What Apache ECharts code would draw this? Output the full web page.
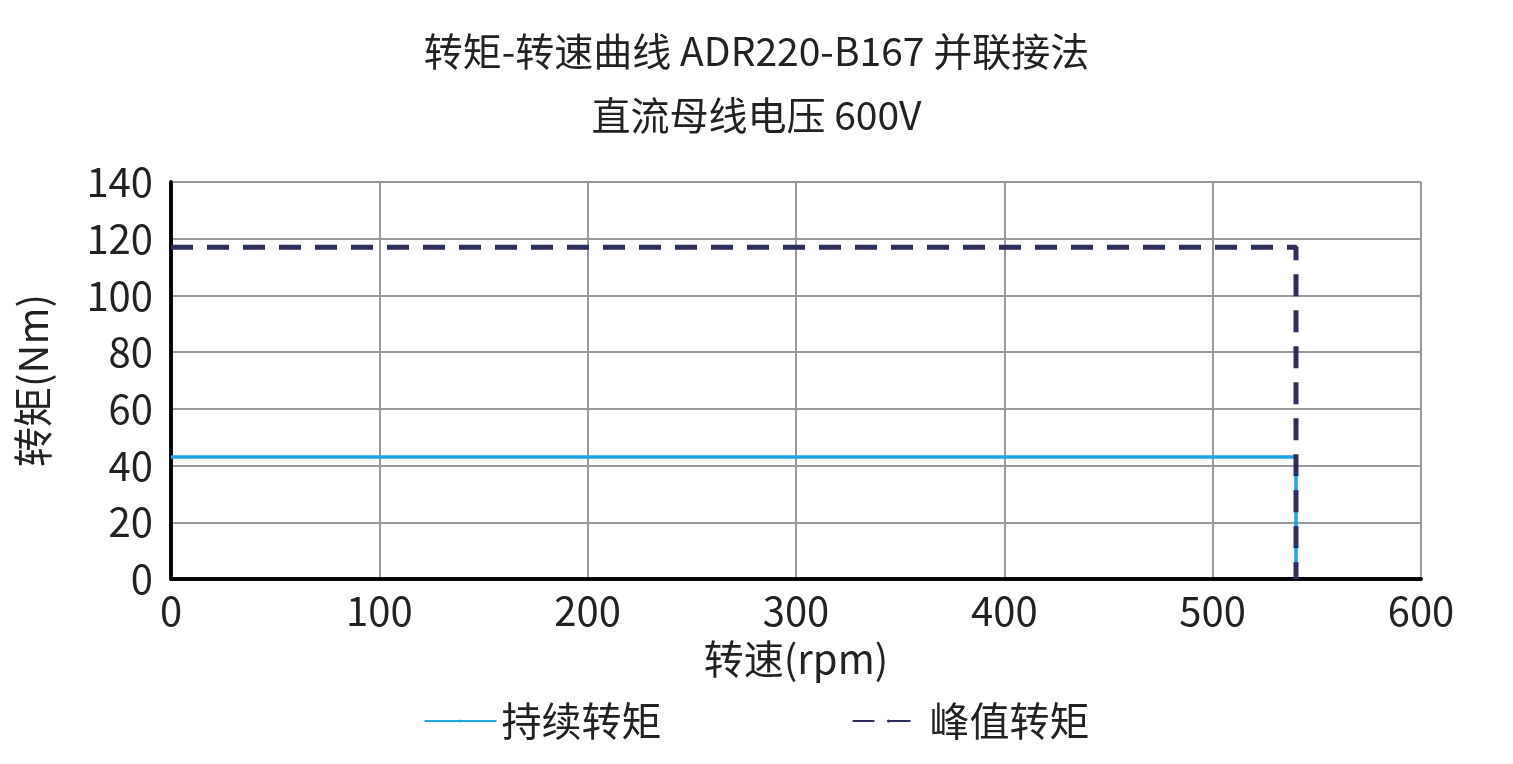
<!DOCTYPE html>
<html><head><meta charset="utf-8">
<script src="https://cdn.jsdelivr.net/npm/echarts@6/dist/echarts.min.js"></script>
<style>html,body{margin:0;background:#fff}#chart{width:1513px;height:764px}</style>
</head><body><div id="chart"></div>
<script>
// values
const contSpeed = [0, 540, 540];
const contTorque = [43, 43, 0];
const peakSpeed = [0, 540, 540];
const peakTorque = [117, 117, 0];
const seriesNames = ['持续转矩', '峰值转矩'];

const font = '"Noto Sans CJK SC", "Noto Sans", sans-serif';
const boxLine = { show: true, lineStyle: { color: '#000', width: 3.5 } };
const myChart = echarts.init(document.getElementById('chart'));
const option = {
  animation: false,
  title: {
    text: '转矩-转速曲线 ADR220-B167 并联接法\n直流母线电压 600V',
    left: 'center', top: 14,
    textStyle: { fontFamily: font, fontSize: 39, fontWeight: 'normal', color: '#222', lineHeight: 64 }
  },
  legend: {
    bottom: 18, left: 'center', itemGap: 190, itemWidth: 72, itemHeight: 4,
    textStyle: { fontFamily: font, fontSize: 40, color: '#222' },
    data: seriesNames
  },
  grid: { left: 171, right: 92, top: 182, bottom: 185 },
  xAxis: [{
    type: 'value', min: 0, max: 600, interval: 100,
    name: '转速(rpm)', nameLocation: 'middle', nameGap: 60,
    nameTextStyle: { fontFamily: font, fontSize: 40, color: '#222' },
    axisLine: boxLine, axisTick: { show: false },
    axisLabel: { fontFamily: font, fontSize: 40, color: '#222', margin: 12 },
    splitLine: { lineStyle: { color: '#999', width: 2 } }
  }, {
    type: 'value', position: 'top', min: 0, max: 600,
    axisLine: boxLine, axisTick: { show: false }, axisLabel: { show: false }, splitLine: { show: false }
  }],
  yAxis: [{
    type: 'value', min: 0, max: 140, interval: 20,
    name: '转矩(Nm)', nameLocation: 'middle', nameGap: 118,
    nameTextStyle: { fontFamily: font, fontSize: 40, color: '#222' },
    axisLine: boxLine, axisTick: { show: false },
    axisLabel: { fontFamily: font, fontSize: 40, color: '#222', margin: 18 },
    splitLine: { lineStyle: { color: '#999', width: 2 } }
  }, {
    type: 'value', position: 'right', min: 0, max: 140,
    axisLine: boxLine, axisTick: { show: false }, axisLabel: { show: false }, splitLine: { show: false }
  }],
  series: [
    {
      name: seriesNames[0], type: 'line', symbol: 'none',
      data: contSpeed.map((x, i) => [x, contTorque[i]]),
      lineStyle: { color: '#1ea7e0', width: 3.5 }, itemStyle: { color: '#1ea7e0' }
    },
    {
      name: seriesNames[1], type: 'line', symbol: 'none',
      data: peakSpeed.map((x, i) => [x, peakTorque[i]]),
      lineStyle: { color: '#2b2d5c', width: 5, type: [22, 14] }, itemStyle: { color: '#2b2d5c' }
    }
  ]
};
myChart.setOption(option);
</script></body></html>
